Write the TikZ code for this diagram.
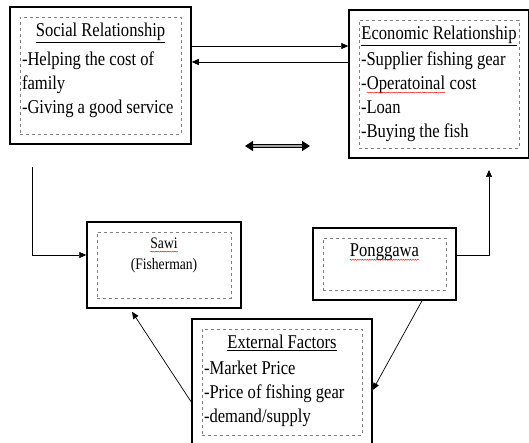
\documentclass[tikz,border=0pt]{standalone}
\usepackage{fontspec}
\setmainfont{Liberation Serif}[FakeStretch=0.85]
\usetikzlibrary{arrows.meta,fit,decorations.pathmorphing}

% red wavy spell-check mark
\newcommand{\spellmark}[1]{\tikz[baseline=(w.base)]{\node[inner sep=0pt] (w) {#1};
  \draw[red, line width=0.4pt, decorate, decoration={snake, amplitude=0.5pt, segment length=2.4pt}]
    ([yshift=-3pt]w.base west) -- ([yshift=-3pt]w.base east);}}

\tikzset{
  outerbox/.style={draw, line width=2pt, inner sep=9.5pt},
  innerbox/.style={draw=gray, dashed, line width=0.5pt, inner sep=2pt, font=\fontsize{19.5}{24}\selectfont},
  conn/.style={line width=0.7pt, -{Triangle[length=7pt,width=6pt]}},
  dblarrow/.style={line width=1.2pt, double=gray!70, double distance=1.4pt,
    {Triangle[length=8pt,width=10pt]}-{Triangle[length=8pt,width=10pt]}}
}

\begin{document}
\begin{tikzpicture}[x=1pt,y=-1pt]
\useasboundingbox (0,0) rectangle (529,443);

% boxes
\node[innerbox] (socialtxt) at (100.5,75.5) {\parbox[c][113pt][t]{157pt}{\vspace*{4pt}\centering\underline{Social Relationship}\par\vspace{5pt}\raggedright
-Helping the cost of\\family\\-Giving a good service}};
\node[outerbox, fit=(socialtxt)] (social) {};

\node[innerbox] (econtxt) at (439,84) {\parbox[c][124pt][t]{156pt}{\vspace*{4pt}\centering\underline{Economic Relationship}\par\vspace{2pt}\raggedright
-Supplier fishing gear\\-\spellmark{Operatoinal} cost\\-Loan\\-Buying the fish}};
\node[outerbox, fit=(econtxt)] (econ) {};

\node[innerbox, font=\fontsize{16}{21}\selectfont] (sawitxt) at (164,265) {\parbox[c][62pt][t]{130pt}{\vspace*{4pt}\centering\spellmark{Sawi}\\(Fisherman)}};
\node[outerbox, fit=(sawitxt)] (sawi) {};

\node[innerbox] (pongtxt) at (384.5,264) {\parbox[c][48pt][t]{119pt}{\vspace*{4pt}\centering\spellmark{Ponggawa}}};
\node[outerbox, fit=(pongtxt)] (pong) {};

\node[innerbox] (exttxt) at (282,382) {\parbox[c][102pt][t]{156pt}{\vspace*{4pt}\centering\underline{External Factors}\par\vspace{2pt}\raggedright
-Market Price\\-Price of fishing gear\\-demand/supply}};
\node[outerbox, fit=(exttxt)] (ext) {};

% free ends
\coordinate (leftstart) at (32,167);
\coordinate (rightend) at (489,170);
\coordinate (dblleft) at (245,146);
\coordinate (dblright) at (310,146);

% connectors
\draw[conn] ([yshift=29.5pt]social.east) -- ([yshift=29.5pt]social.east -| econ.west);
\draw[conn] ([yshift=13.5pt]social.east -| econ.west) -- ([yshift=13.5pt]social.east);
\draw[dblarrow] (dblleft) -- (dblright);
\draw[conn] (leftstart) |- ([yshift=10pt]sawi.west);
\draw[conn] ([yshift=9pt]pong.east) -| (rightend);
\draw[conn] ([xshift=37.5pt]pong.south) -- ([yshift=-8pt]ext.east);
\draw[conn] ([yshift=-20pt]ext.west) -- ([xshift=-32pt,yshift=-3pt]sawi.south);
\end{tikzpicture}
\end{document}
